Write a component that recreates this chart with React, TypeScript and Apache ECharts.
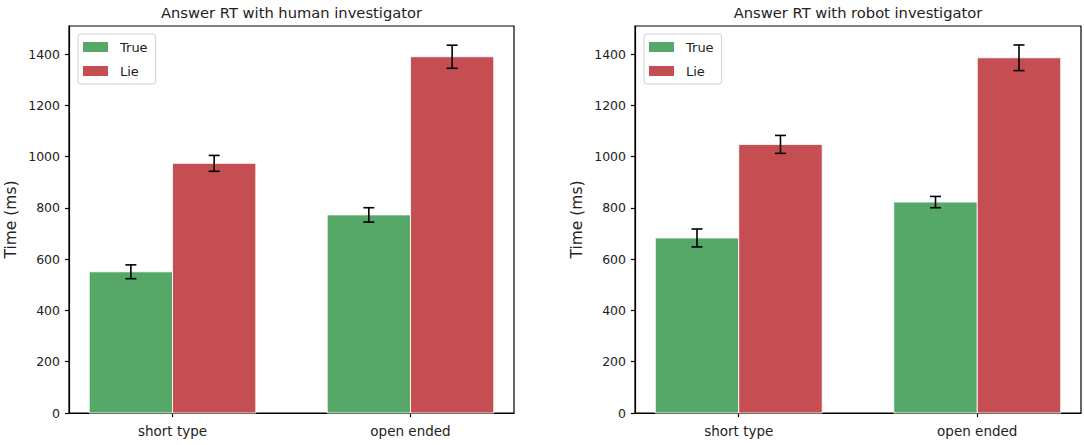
import React, { useEffect, useRef } from "react";
import * as echarts from "echarts";

const categories = ["short type", "open ended"];
const seriesNames = ["True", "Lie"];
const humanTrue = [551, 773];
const humanTrueErr = [27, 28];
const humanLie = [974, 1390];
const humanLieErr = [31, 45];
const robotTrue = [683, 823];
const robotTrueErr = [35, 22];
const robotLie = [1048, 1386];
const robotLieErr = [35, 50];
const yTicks = [0, 200, 400, 600, 800, 1000, 1200, 1400];
const titles = ["Answer RT with human investigator", "Answer RT with robot investigator"];

const GREEN = "#55a868";
const RED = "#c44e52";
const FONT = "'DejaVu Sans', sans-serif";
const TXT = "#222";
const BAR_W = 0.35;

function makeSeries(name: string, color: string, vals: number[], errs: number[], axisIndex: number, off0: number, off1: number) {
  return {
    type: "custom",
    name,
    xAxisIndex: axisIndex,
    yAxisIndex: axisIndex,
    itemStyle: { color },
    data: vals.map((v, i) => [i, v, errs[i]]),
    renderItem: (params: any, api: any) => {
      const c = api.value(0);
      const v = api.value(1);
      const e = api.value(2);
      const x0 = c + off0;
      const x1 = c + off1;
      const xm = (x0 + x1) / 2;
      const p0 = api.coord([x0, 0]);
      const p1 = api.coord([x1, v]);
      const top = api.coord([xm, v + e]);
      const bot = api.coord([xm, v - e]);
      const cap = 5.5;
      const es = { stroke: "#000", lineWidth: 1.6 };
      return {
        type: "group",
        children: [
          {
            type: "rect",
            shape: { x: p0[0], y: p1[1], width: p1[0] - p0[0], height: p0[1] - p1[1] },
            style: { fill: color, stroke: "rgba(255,255,255,0.85)", lineWidth: 1 },
          },
          { type: "line", shape: { x1: top[0], y1: top[1], x2: bot[0], y2: bot[1] }, style: es },
          { type: "line", shape: { x1: top[0] - cap, y1: top[1], x2: top[0] + cap, y2: top[1] }, style: es },
          { type: "line", shape: { x1: bot[0] - cap, y1: bot[1], x2: bot[0] + cap, y2: bot[1] }, style: es },
        ],
      };
    },
  };
}

const grids = [
  { left: 69, top: 26, width: 445, height: 387 },
  { left: 635, top: 26, width: 446, height: 387 },
];

export default function App() {
  const ref = useRef<HTMLDivElement>(null);
  useEffect(() => {
    if (!ref.current) return;
    const chart = echarts.init(ref.current, undefined, { renderer: "svg" });
    const xAxes = grids.map((_, i) => ({
      type: "value",
      gridIndex: i,
      min: -0.435,
      max: 1.435,
      axisLine: { show: true, onZero: false, lineStyle: { color: "#000", width: 1.2 } },
      axisTick: { show: true, customValues: [0, 1], length: 4, lineStyle: { color: "#000", width: 1.2 } },
      axisLabel: {
        customValues: [0, 1],
        formatter: (v: number) => categories[Math.round(v)],
        fontFamily: FONT,
        fontSize: 13.5,
        color: TXT,
        margin: 11,
      },
      splitLine: { show: false },
    }));
    const yAxes = grids.map((_, i) => ({
      type: "value",
      gridIndex: i,
      min: 0,
      max: 1510,
      name: "Time (ms)",
      nameLocation: "middle",
      nameRotate: 90,
      nameGap: 50,
      nameTextStyle: { fontFamily: FONT, fontSize: 15.5, color: TXT },
      axisLine: { show: true, onZero: false, lineStyle: { color: "#000", width: 1.2 } },
      axisTick: { show: true, customValues: yTicks, length: 4, lineStyle: { color: "#000", width: 1.2 } },
      axisLabel: {
        customValues: yTicks,
        formatter: (v: number) => String(Math.round(v)),
        fontFamily: FONT,
        fontSize: 12.5,
        color: TXT,
        margin: 9,
      },
      splitLine: { show: false },
    }));
    const legends = grids.map((g) => ({
      orient: "vertical",
      left: g.left + 9,
      top: 34,
      data: seriesNames,
      icon: "rect",
      itemWidth: 25,
      itemHeight: 10,
      itemGap: 10,
      padding: [6, 8, 6, 5],
      backgroundColor: "rgba(255,255,255,0.8)",
      borderColor: "#d0d0d0",
      borderWidth: 1,
      borderRadius: 3,
      textStyle: { fontFamily: FONT, fontSize: 13, color: TXT, lineHeight: 14, padding: [0, 0, 0, 7] },
    }));
    chart.setOption({
      animation: false,
      grid: grids.map((g) => ({ ...g, show: true, borderColor: "#000", borderWidth: 1.2, backgroundColor: "transparent" })),
      xAxis: xAxes,
      yAxis: yAxes,
      legend: legends,
      graphic: grids.map((g, i) => ({
        type: "text",
        x: g.left + g.width / 2,
        y: 12,
        style: {
          text: titles[i],
          fontFamily: FONT,
          fontSize: 14.7,
          fill: TXT,
          align: "center",
          verticalAlign: "middle",
        },
      })),
      series: [
        makeSeries("True", GREEN, humanTrue, humanTrueErr, 0, -BAR_W, 0),
        makeSeries("Lie", RED, humanLie, humanLieErr, 0, 0, BAR_W),
        makeSeries("True", GREEN, robotTrue, robotTrueErr, 1, -BAR_W, 0),
        makeSeries("Lie", RED, robotLie, robotLieErr, 1, 0, BAR_W),
      ],
    });
    return () => chart.dispose();
  }, []);
  return (
    <div
      ref={ref}
      style={{ position: "fixed", left: 0, top: 0, width: 1084, height: 445, background: "#fff" }}
    />
  );
}
